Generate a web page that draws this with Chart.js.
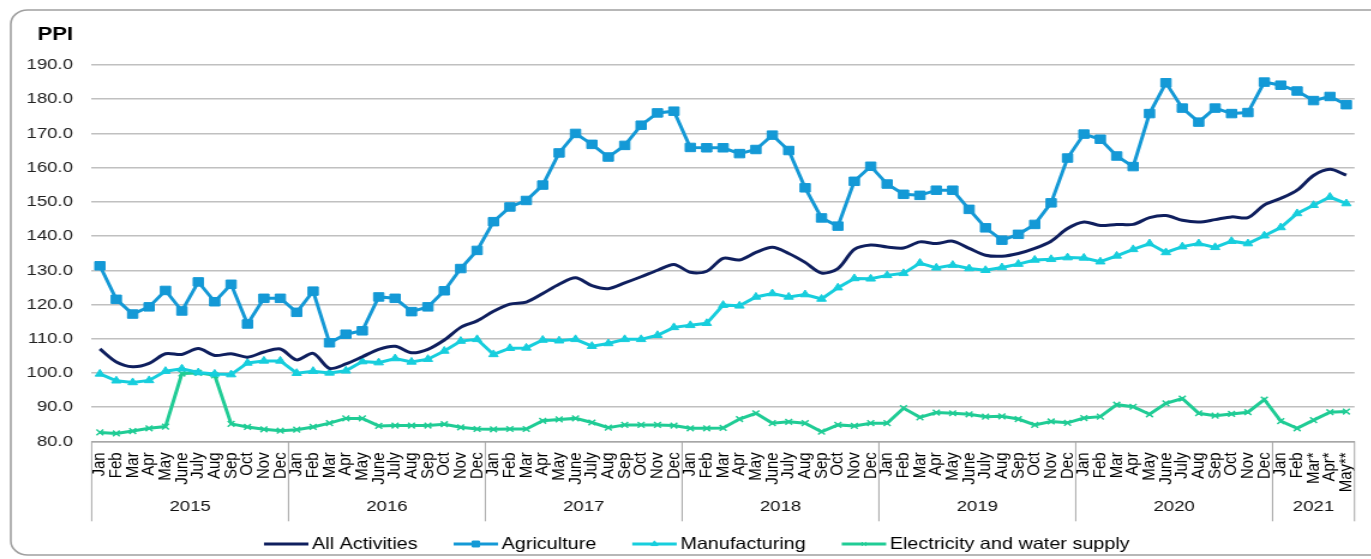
<!DOCTYPE html>
<html>
<head>
<meta charset="utf-8">
<script src="https://cdn.jsdelivr.net/npm/chart.js@4"></script>
<style>
  html, body { margin: 0; padding: 0; background: #fff; overflow: hidden; }
  /* the source picture is stretched sideways, so draw narrow and scale */
  #wrap { width: 1143px; height: 559px; transform: scaleX(1.2); transform-origin: 0 0; }
</style>
</head>
<body>
<div id="wrap"><canvas id="ppiChart"></canvas></div>
<script>
const years = ['2015', '2016', '2017', '2018', '2019', '2020', '2021'];
const monthNames = ['Jan', 'Feb', 'Mar', 'Apr', 'May', 'June', 'July', 'Aug', 'Sep', 'Oct', 'Nov', 'Dec'];
const months2021 = ['Jan', 'Feb', 'Mar*', 'Apr*', 'May**'];
const yearMonths = [monthNames, monthNames, monthNames, monthNames, monthNames, monthNames, months2021];
const yTicks = { min: 80, max: 190, step: 10 };

const allActivities = [
  107.0, 103.2, 101.8, 102.8, 105.6, 105.4, 107.1, 105.1, 105.6, 104.6, 106.1, 107.0,
  103.8, 105.7, 101.3, 102.6, 104.7, 106.9, 107.8, 105.9, 106.9, 109.6, 113.3, 115.2,
  118.0, 120.1, 120.7, 123.2, 125.9, 127.8, 125.5, 124.6, 126.3, 128.1, 130.0, 131.7,
  129.4, 129.7, 133.5, 133.0, 135.2, 136.7, 134.9, 132.3, 129.2, 130.5, 136.1, 137.4,
  136.8, 136.5, 138.3, 137.8, 138.5, 136.4, 134.4, 134.1, 134.9, 136.4, 138.5, 142.2,
  144.1, 143.1, 143.4, 143.4, 145.4, 146.0, 144.6, 144.1, 144.8, 145.6, 145.4, 149.1,
  151.0, 153.4, 157.7, 159.5, 157.8
];
const agriculture = [
  131.3, 121.5, 117.2, 119.3, 124.1, 118.1, 126.6, 120.8, 125.9, 114.3, 121.8, 121.8,
  117.7, 123.9, 108.8, 111.3, 112.3, 122.2, 121.8, 117.9, 119.3, 124.0, 130.5, 135.8,
  144.2, 148.5, 150.4, 154.9, 164.3, 170.0, 166.8, 163.1, 166.5, 172.4, 176.0, 176.5,
  165.9, 165.8, 165.8, 164.1, 165.3, 169.5, 165.0, 154.1, 145.3, 142.9, 156.0, 160.4,
  155.2, 152.2, 151.9, 153.4, 153.4, 147.8, 142.4, 138.8, 140.5, 143.4, 149.7, 162.8,
  169.8, 168.3, 163.4, 160.3, 175.8, 184.8, 177.4, 173.3, 177.4, 175.8, 176.1, 185.0,
  184.1, 182.4, 179.6, 180.8, 178.4
];
const manufacturing = [
  99.7, 97.7, 97.2, 97.8, 100.5, 101.2, 100.1, 99.7, 99.5, 102.9, 103.5, 103.5,
  99.9, 100.5, 100.0, 100.6, 103.3, 103.0, 104.2, 103.2, 104.0, 106.4, 109.3, 109.8,
  105.4, 107.2, 107.3, 109.6, 109.4, 109.8, 107.8, 108.6, 109.8, 109.8, 111.0, 113.3,
  113.9, 114.5, 119.8, 119.6, 122.2, 123.2, 122.2, 122.9, 121.6, 124.9, 127.6, 127.5,
  128.5, 129.1, 132.1, 130.7, 131.5, 130.5, 130.0, 130.8, 131.8, 133.0, 133.2, 133.7,
  133.6, 132.5, 134.2, 136.1, 137.8, 135.2, 136.9, 137.8, 136.7, 138.5, 137.8, 140.1,
  142.5, 146.6, 149.0, 151.4, 149.5
];
const electricity = [
  82.6, 82.3, 83.0, 83.8, 84.3, 99.8, 100.0, 99.3, 85.1, 84.2, 83.5, 83.1,
  83.4, 84.2, 85.3, 86.7, 86.7, 84.5, 84.6, 84.6, 84.6, 85.0, 84.1, 83.6,
  83.5, 83.6, 83.6, 86.0, 86.4, 86.7, 85.5, 84.0, 84.8, 84.8, 84.8, 84.6,
  83.8, 83.8, 83.9, 86.5, 88.2, 85.3, 85.7, 85.3, 82.8, 84.8, 84.5, 85.3,
  85.3, 89.7, 87.0, 88.4, 88.2, 87.9, 87.2, 87.3, 86.5, 84.8, 85.8, 85.4,
  86.8, 87.2, 90.7, 90.1, 87.9, 91.1, 92.5, 88.2, 87.5, 88.0, 88.5, 92.2,
  85.9, 83.8, 86.2, 88.5, 88.7
];

const labels = yearMonths.flat();
const FONT = '"Liberation Sans", Arial, sans-serif';
Chart.defaults.font.family = FONT;
Chart.defaults.font.size = 15;
Chart.defaults.color = '#111';

// frame, PPI title, year row under the months, and the legend
const extras = {
  id: 'extras',
  beforeDraw(chart) {
    const c = chart.ctx;
    c.save();
    c.fillStyle = '#fff';
    c.fillRect(0, 0, chart.width, chart.height);
    c.strokeStyle = '#a0a0a0';
    c.lineWidth = 1.6;
    c.beginPath();
    c.roundRect(9, 10, chart.width + 30, 545, 14);
    c.stroke();
    c.restore();
  },
  afterDraw(chart) {
    const c = chart.ctx;
    const xs = chart.scales.x;
    c.save();

    c.font = 'bold 18.5px ' + FONT;
    c.fillStyle = '#000';
    c.textAlign = 'right';
    c.textBaseline = 'middle';
    c.fillText('PPI', 61, 35);

    // year groups
    const edge = i => {
      if (i <= 0) return xs.left;
      if (i >= labels.length) return xs.right;
      return (xs.getPixelForValue(i - 1) + xs.getPixelForValue(i)) / 2;
    };
    const top = xs.top, bot = xs.top + 80;
    c.strokeStyle = '#a6a6a6';
    c.lineWidth = 1;
    c.font = '15.5px ' + FONT;
    c.textAlign = 'center';
    c.fillStyle = '#111';
    let start = 0;
    years.forEach((y, k) => {
      const a = edge(start), b = edge(start + yearMonths[k].length);
      c.beginPath(); c.moveTo(a, top); c.lineTo(a, bot); c.stroke();
      c.fillText(y, (a + b) / 2, 507);
      start += yearMonths[k].length;
    });
    c.beginPath(); c.moveTo(xs.right, top); c.lineTo(xs.right, bot); c.stroke();

    // legend
    const lineLen = 37, gapText = 3, gapItem = 30, ly = 544;
    c.font = '16.5px ' + FONT;
    c.textAlign = 'left';
    let x = 220;
    chart.data.datasets.forEach(ds => {
      c.strokeStyle = ds.borderColor;
      c.lineWidth = 3;
      c.beginPath(); c.moveTo(x, ly); c.lineTo(x + lineLen, ly); c.stroke();
      if (ds.pointRadius > 0) {
        c.fillStyle = ds.pointBackgroundColor;
        c.strokeStyle = ds.borderColor;
        c.lineWidth = 1;
        Chart.helpers.drawPoint(c, { pointStyle: ds.pointStyle, radius: ds.pointRadius * 0.7, rotation: 0, borderWidth: 1 }, x + lineLen / 2, ly);
      }
      c.fillStyle = '#000';
      c.fillText(ds.label, x + lineLen + gapText, ly);
      x += lineLen + gapText + c.measureText(ds.label).width + gapItem;
    });
    c.restore();
  }
};

new Chart(document.getElementById('ppiChart'), {
  type: 'line',
  data: {
    labels: labels,
    datasets: [
      {
        label: 'All Activities',
        data: allActivities,
        borderColor: '#0f1f5e',
        borderWidth: 3,
        pointRadius: 0,
        tension: 0.3
      },
      {
        label: 'Agriculture',
        data: agriculture,
        borderColor: '#1499d6',
        pointBackgroundColor: '#1499d6',
        borderWidth: 3,
        pointStyle: 'rect',
        pointRadius: 6,
        pointBorderWidth: 1,
        tension: 0
      },
      {
        label: 'Manufacturing',
        data: manufacturing,
        borderColor: '#17cedd',
        pointBackgroundColor: '#17cedd',
        borderWidth: 3,
        pointStyle: 'triangle',
        pointRadius: 4.5,
        pointBorderWidth: 1,
        tension: 0
      },
      {
        label: 'Electricity and water supply',
        data: electricity,
        borderColor: '#20cc95',
        pointBackgroundColor: '#20cc95',
        borderWidth: 3,
        pointStyle: 'crossRot',
        pointRadius: 4,
        pointBorderWidth: 1.5,
        tension: 0
      }
    ]
  },
  options: {
    responsive: true,
    maintainAspectRatio: false,
    animation: false,
    layout: { padding: { top: 65, right: 11.3, bottom: 37.7, left: 0 } },
    plugins: {
      legend: { display: false },
      tooltip: { enabled: false }
    },
    scales: {
      x: {
        offset: true,
        grid: { display: false },
        border: { display: true, color: '#a6a6a6', width: 1.5 },
        ticks: {
          autoSkip: false,
          minRotation: 90,
          maxRotation: 90,
          padding: 3,
          color: '#000',
          font: { family: FONT, size: 15 }
        },
        afterFit: s => { s.height = 80; }
      },
      y: {
        min: yTicks.min,
        max: yTicks.max,
        grid: { color: '#c0c0c0', lineWidth: 1.5, drawTicks: false },
        border: { display: false },
        ticks: {
          stepSize: yTicks.step,
          padding: 15.6,
          color: '#222',
          font: { family: FONT, size: 15.5 },
          callback: v => v.toFixed(1)
        },
        afterFit: s => { s.width = 76.4; }
      }
    }
  },
  plugins: [extras]
});
</script>
</body>
</html>
